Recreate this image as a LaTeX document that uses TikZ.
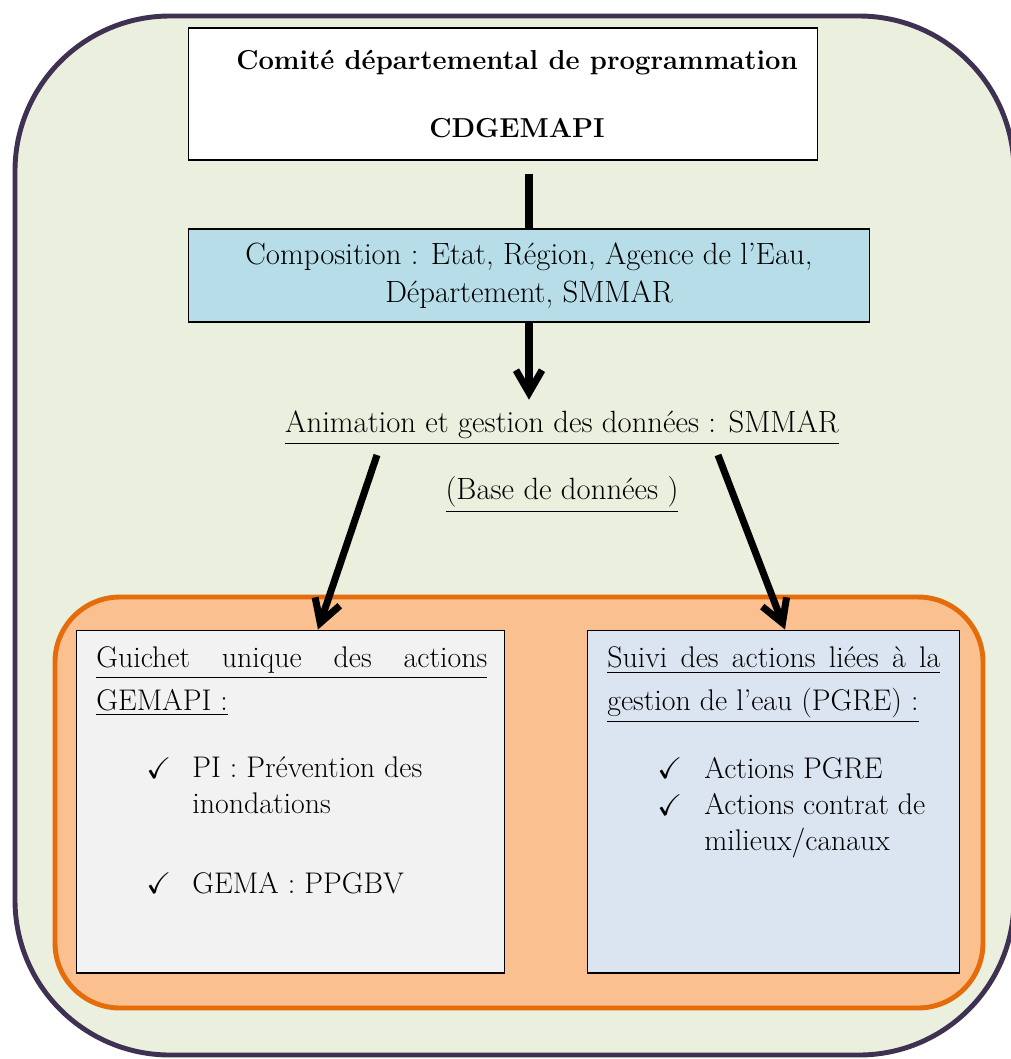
\documentclass[tikz,border=0pt]{standalone}
\usepackage{fontspec}
\usepackage{amssymb}
\usetikzlibrary{arrows.meta}
\definecolor{frameback}{RGB}{235,239,222}
\definecolor{frameline}{RGB}{63,49,81}
\definecolor{orangeback}{RGB}{250,192,144}
\definecolor{orangeline}{RGB}{228,108,10}
\definecolor{compoblue}{RGB}{183,221,232}
\definecolor{leftgrey}{RGB}{242,242,242}
\definecolor{rightblue}{RGB}{219,229,241}
\newcommand{\boxfont}{\fontsize{17.5}{22}\selectfont}
\newcommand{\listfont}{\fontsize{17}{20}\selectfont}

\begin{document}
\begin{tikzpicture}[x=0.02cm, y=-0.02cm, font=\boxfont]
        \tikzstyle{panel}=[rectangle, draw=black, line width=0.6pt, inner sep=0pt]
        \tikzstyle{boxtext}=[inner sep=0pt, align=left, anchor=base west, font=\listfont]
        \tikzstyle{headtext}=[boxtext, font=\fontsize{17}{24}\selectfont]
        \tikzstyle{link}=[line width=4pt]
        \tikzstyle{flow}=[link, -{Straight Barb[length=0.45cm, width=0.52cm]}]
        \useasboundingbox (0,0) rectangle (1011,1059);
        \begin{scope}
          \clip (0,0) rectangle (1011,1059);
          \filldraw [fill=frameback, draw=frameline, line width=2.8pt, rounded corners=3.1cm]
          (15,16) rectangle (1014,1055);
        \end{scope}
        \filldraw [fill=orangeback, draw=orangeline, line width=2.8pt, rounded corners=1.3cm]
        (55,597) rectangle (983,1008);
        \node [panel, fill=white, minimum width=12.6cm, minimum height=2.64cm, align=center, font=\fontsize{15.6}{19}\selectfont\bfseries] (cdg) at (503,94)
          {\hspace*{0.56cm}Comité départemental de programmation\\[0.7cm]\hspace*{0.56cm}CDGEMAPI};
        \node [panel, fill=compoblue, minimum width=13.64cm, minimum height=1.86cm, align=center] (compo) at (529,275.5)
          {Composition : Etat, Région, Agence de l’Eau,\\Département, SMMAR};
        \node (anim) at (562,428) {\underline{Animation et gestion des données : SMMAR}};
        \node (base) at (562,495) {\underline{(Base de données )}};
        \node [panel, fill=leftgrey, minimum width=8.58cm, minimum height=6.86cm] (gemapi) at (290.5,801.5) {};
        \node [panel, fill=rightblue, minimum width=7.46cm, minimum height=6.86cm] (pgre) at (773.5,801.5) {};
        \node [headtext] (gemapititle) at (96,710)
          {\underline{\makebox[7.82cm][s]{Guichet unique des actions}}\\\underline{GEMAPI :}};
        \node [boxtext] (chkpi) at (146,778) {$\checkmark$};
        \node [boxtext] (pi) at (192,813) {PI : Prévention des\\inondations};
        \node [boxtext] (chkgema) at (146,893) {$\checkmark$};
        \node [boxtext] (gema) at (192,893) {GEMA : PPGBV};
        \node [headtext] (pgretitle) at (607,710)
          {\underline{\makebox[6.66cm][s]{Suivi des actions liées à la}}\\\underline{gestion de l’eau (PGRE) :}};
        \node [boxtext] (chkpgre) at (657,778) {$\checkmark$};
        \node [boxtext] (actpgre) at (704,778) {Actions PGRE};
        \node [boxtext] (chkcontrat) at (657,815) {$\checkmark$};
        \node [boxtext] (contrat) at (704,850) {Actions contrat de\\milieux/canaux};
        \coordinate (animleft) at (377,455);
        \coordinate (animright) at (718,455);
        \draw [link, shorten <=0.26cm] (cdg.south -| compo.north) -- (compo.north);
        \draw [flow] (compo.south) -- ([yshift=0.1cm]compo.south |- anim.north);
        \draw [flow] (animleft) -- ([xshift=0.55cm]gemapi.north);
        \draw [flow] (animright) -- ([xshift=0.23cm]pgre.north);
      \end{tikzpicture}
\end{document}
